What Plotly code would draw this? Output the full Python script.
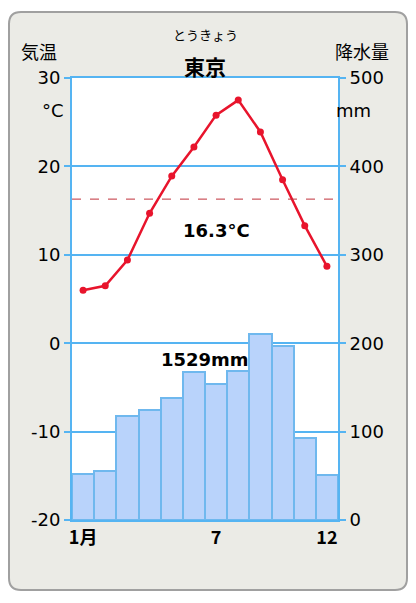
import plotly.graph_objs as go

months = list(range(1, 13))
temp = [6.0, 6.5, 9.4, 14.7, 18.9, 22.2, 25.8, 27.5, 23.9, 18.5, 13.3, 8.7]
precip = [52, 56, 118, 124, 138, 167, 154, 168, 210, 197, 93, 51]
mean_temp = 16.3
total_precip = 1529
xtick_vals = [1, 7, 12]
xtick_text = ["1月", "7", "12"]
temp_ticks = [-20, -10, 0, 10, 20, 30]
precip_ticks = [0, 100, 200, 300, 400, 500]

blue = "#55b4f2"
fig = go.Figure()
fig.add_trace(go.Bar(x=months, y=precip, yaxis="y2", width=1,
                     marker=dict(color="#b9d3fb", line=dict(color="#6fb8ee", width=2))))
fig.add_trace(go.Scatter(x=months, y=temp, mode="lines+markers",
                         line=dict(color="#e8142c", width=2.5),
                         marker=dict(color="#e8142c", size=7)))
fig.add_trace(go.Scatter(x=[0.5, 12.5], y=[mean_temp, mean_temp], mode="lines",
                         line=dict(color="#c0303a", width=1, dash="dash")))

# rounded outer box (page body adds 8px offset)
rx, ry = 12 / 266, 12 / 442
x0, x1 = (1 - 64) / 266, (399 - 64) / 266
y1, y0 = 1 + (70 - 4) / 442, -(582 - 512) / 442
path = (f"M {x0+rx},{y0} L {x1-rx},{y0} Q {x1},{y0} {x1},{y0+ry} "
        f"L {x1},{y1-ry} Q {x1},{y1} {x1-rx},{y1} L {x0+rx},{y1} "
        f"Q {x0},{y1} {x0},{y1-ry} L {x0},{y0+ry} Q {x0},{y0} {x0+rx},{y0} Z")
shapes = [
    dict(type="path", path=path, xref="paper", yref="paper", layer="below",
         fillcolor="#ebebe6", line=dict(color="#a0a0a0", width=2)),
    dict(type="rect", x0=0, x1=1, y0=0, y1=1, xref="paper", yref="paper",
         layer="below", fillcolor="white", line=dict(width=0)),
]

jp = "Noto Sans CJK JP"
ann = [
    dict(x=-0.2, y=1.095, text="気温", font=dict(size=18, family=jp)),
    dict(x=1.2, y=1.095, text="降水量", font=dict(size=18, family=jp)),
    dict(x=0.5, y=1.125, text="とうきょう", font=dict(size=13, family=jp)),
    dict(x=0.5, y=1.065, text="<b>東京</b>", font=dict(size=21, family=jp)),
    dict(x=-0.12, y=0.955, text="°C", font=dict(size=18)),
    dict(x=1.13, y=0.955, text="mm", font=dict(size=18)),
]
for a in ann:
    a.update(xref="paper", yref="paper", showarrow=False)
ann += [
    dict(x=7, y=mean_temp - 3.6, xref="x", yref="y", text="<b>16.3°C</b>", showarrow=False,
         font=dict(size=18)),
    dict(x=6.5, y=-1.8, xref="x", yref="y", text=f"<b>{total_precip}mm</b>", showarrow=False,
         font=dict(size=18)),
]

fig.update_layout(
    width=400, height=587, margin=dict(l=64, r=70, t=70, b=75),
    paper_bgcolor="white", plot_bgcolor="rgba(0,0,0,0)",
    showlegend=False, shapes=shapes, annotations=ann,
    font=dict(family="DejaVu Sans, Noto Sans CJK JP", size=17, color="black"), bargap=0,
    xaxis=dict(range=[0.5, 12.5], tickvals=xtick_vals, ticktext=[f"<b>{t}</b>" for t in xtick_text],
               showgrid=False, showline=True, linecolor=blue, linewidth=2, mirror=True,
               tickfont=dict(size=18, family=jp), ticks=""),
    yaxis=dict(range=[-20, 30], tickvals=temp_ticks, ticktext=[str(v) for v in temp_ticks],
               gridcolor=blue, gridwidth=2, zeroline=False,
               showline=True, linecolor=blue, linewidth=2, ticks="outside", ticklen=6,
               tickcolor=blue, tickwidth=2, tickfont=dict(size=18)),
    yaxis2=dict(range=[0, 500], tickvals=precip_ticks, overlaying="y", side="right", showgrid=False,
                zeroline=False, showline=True, linecolor=blue, linewidth=2, ticks="outside",
                ticklen=6, tickcolor=blue, tickwidth=2, tickfont=dict(size=18)),
)
fig.write_html("out.html")
